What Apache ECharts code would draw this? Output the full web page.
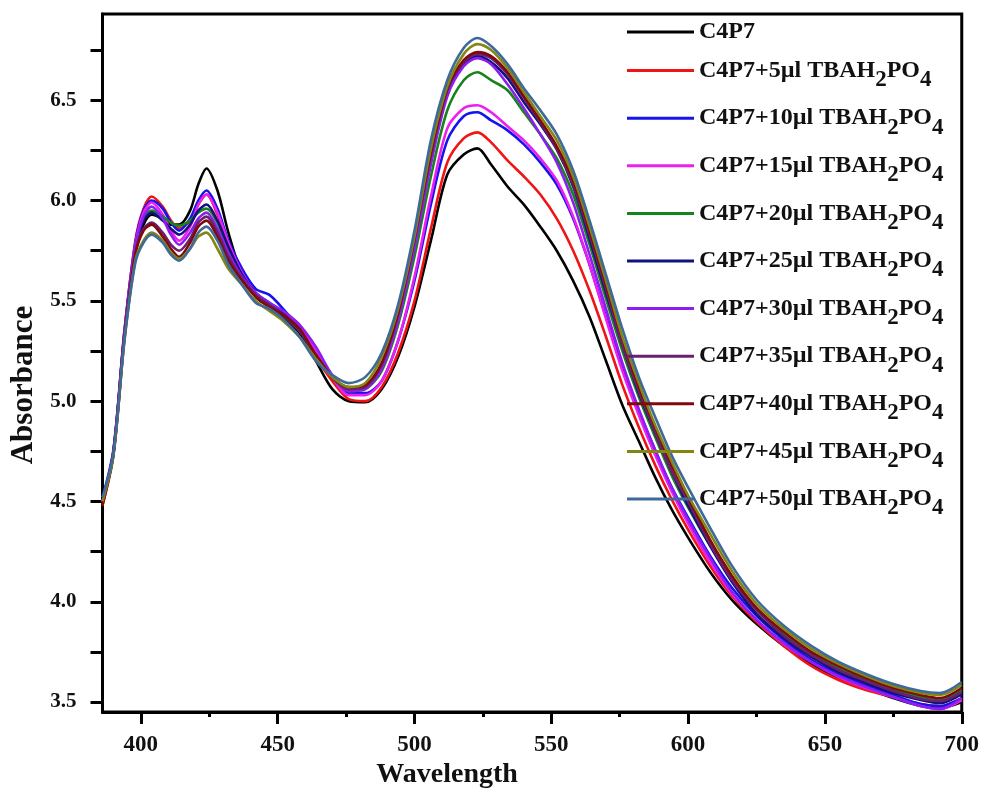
<!DOCTYPE html>
<html>
<head>
<meta charset="utf-8">
<script src="https://cdn.jsdelivr.net/npm/echarts@6/dist/echarts.min.js"></script>
<style>
  body { margin: 0; background: #fff; }
  #chart { width: 982px; height: 794px; }
</style>
</head>
<body>
<div id="chart"></div>
<script>
var wavelength = [386, 390, 394, 398, 401, 404, 408, 411, 414, 418, 421, 424, 428, 432, 437, 442, 447, 452, 458, 464,
  470, 476, 482, 488, 494, 500, 506, 512, 518, 523, 528, 534, 540, 546, 552, 558, 564, 570, 576, 582,
  588, 594, 600, 608, 616, 625, 635, 645, 655, 665, 675, 685, 692, 700];

var c4p7 = [4.5, 4.74, 5.33, 5.74, 5.88, 5.93, 5.91, 5.88, 5.88, 5.95, 6.08, 6.16, 6.05, 5.84, 5.63, 5.52, 5.47, 5.42, 5.34, 5.2,
  5.06, 5.0, 4.995, 5.06, 5.22, 5.47, 5.8, 6.13, 6.23, 6.26, 6.18, 6.07, 5.98, 5.87, 5.75, 5.6, 5.42, 5.2, 4.98, 4.8,
  4.62, 4.46, 4.32, 4.15, 4.01, 3.89, 3.78, 3.69, 3.62, 3.57, 3.52, 3.48, 3.47, 3.5];
var add5 = [4.48, 4.74, 5.34, 5.8, 5.96, 6.02, 5.97, 5.9, 5.86, 5.9, 5.98, 6.03, 5.93, 5.78, 5.62, 5.53, 5.47, 5.44, 5.38, 5.22,
  5.1, 5.01, 5.0, 5.07, 5.24, 5.5, 5.86, 6.19, 6.31, 6.34, 6.29, 6.2, 6.12, 6.03, 5.91, 5.75, 5.55, 5.32, 5.08, 4.87,
  4.68, 4.51, 4.36, 4.18, 4.03, 3.9, 3.78, 3.68, 3.61, 3.56, 3.525, 3.49, 3.48, 3.52];
var add10 = [4.52, 4.76, 5.35, 5.79, 5.95, 6.0, 5.96, 5.89, 5.85, 5.91, 6.0, 6.05, 5.96, 5.8, 5.66, 5.56, 5.53, 5.46, 5.36, 5.23,
  5.12, 5.04, 5.04, 5.1, 5.3, 5.6, 5.98, 6.3, 6.42, 6.44, 6.4, 6.35, 6.28, 6.19, 6.08, 5.91, 5.68, 5.42, 5.17, 4.95,
  4.755, 4.57, 4.42, 4.23, 4.07, 3.93, 3.81, 3.71, 3.64, 3.585, 3.535, 3.49, 3.48, 3.52];
var add15 = [4.5, 4.75, 5.34, 5.78, 5.94, 5.99, 5.93, 5.85, 5.8, 5.87, 5.98, 6.03, 5.94, 5.79, 5.64, 5.54, 5.48, 5.44, 5.38, 5.25,
  5.12, 5.03, 5.03, 5.1, 5.3, 5.62, 6.02, 6.36, 6.46, 6.475, 6.44, 6.37, 6.3, 6.21, 6.1, 5.92, 5.68, 5.41, 5.15, 4.93,
  4.73, 4.55, 4.39, 4.2, 4.04, 3.91, 3.79, 3.7, 3.625, 3.57, 3.525, 3.48, 3.465, 3.51];
var add20 = [4.5, 4.75, 5.33, 5.76, 5.91, 5.95, 5.92, 5.89, 5.875, 5.9, 5.94, 5.96, 5.89, 5.75, 5.62, 5.53, 5.48, 5.43, 5.35, 5.23,
  5.12, 5.05, 5.06, 5.15, 5.38, 5.72, 6.12, 6.45, 6.6, 6.64, 6.6, 6.55, 6.44, 6.33, 6.21, 6.03, 5.78, 5.51, 5.25, 5.02,
  4.82, 4.63, 4.47, 4.28, 4.11, 3.96, 3.84, 3.745, 3.67, 3.61, 3.56, 3.525, 3.515, 3.56];
var add25 = [4.5, 4.75, 5.33, 5.76, 5.9, 5.94, 5.9, 5.86, 5.83, 5.88, 5.95, 5.98, 5.9, 5.77, 5.63, 5.54, 5.49, 5.44, 5.35, 5.23,
  5.12, 5.06, 5.07, 5.17, 5.42, 5.78, 6.2, 6.53, 6.68, 6.72, 6.69, 6.61, 6.49, 6.38, 6.255, 6.07, 5.81, 5.54, 5.28, 5.04,
  4.84, 4.65, 4.48, 4.28, 4.1, 3.94, 3.82, 3.725, 3.65, 3.595, 3.545, 3.51, 3.495, 3.54];
var add30 = [4.5, 4.75, 5.34, 5.77, 5.92, 5.97, 5.91, 5.83, 5.78, 5.84, 5.91, 5.94, 5.86, 5.74, 5.62, 5.54, 5.49, 5.45, 5.38, 5.27,
  5.13, 5.05, 5.06, 5.16, 5.4, 5.76, 6.18, 6.52, 6.67, 6.71, 6.68, 6.58, 6.46, 6.33, 6.19, 5.99, 5.73, 5.46, 5.19, 4.96,
  4.755, 4.57, 4.41, 4.22, 4.05, 3.91, 3.795, 3.7, 3.63, 3.575, 3.525, 3.48, 3.465, 3.52];
var add35 = [4.5, 4.74, 5.32, 5.74, 5.86, 5.89, 5.84, 5.78, 5.75, 5.81, 5.89, 5.92, 5.84, 5.72, 5.61, 5.53, 5.48, 5.43, 5.35, 5.23,
  5.12, 5.06, 5.07, 5.18, 5.43, 5.8, 6.22, 6.55, 6.69, 6.73, 6.71, 6.63, 6.51, 6.39, 6.26, 6.08, 5.83, 5.56, 5.28, 5.05,
  4.845, 4.65, 4.5, 4.29, 4.11, 3.96, 3.83, 3.735, 3.66, 3.605, 3.555, 3.515, 3.505, 3.55];
var add40 = [4.48, 4.73, 5.31, 5.73, 5.85, 5.88, 5.82, 5.76, 5.72, 5.79, 5.87, 5.9, 5.82, 5.7, 5.6, 5.52, 5.47, 5.43, 5.36, 5.23,
  5.12, 5.07, 5.08, 5.19, 5.44, 5.81, 6.24, 6.56, 6.7, 6.74, 6.72, 6.64, 6.52, 6.4, 6.27, 6.1, 5.85, 5.58, 5.31, 5.07,
  4.87, 4.68, 4.52, 4.31, 4.13, 3.97, 3.85, 3.75, 3.68, 3.62, 3.57, 3.535, 3.52, 3.57];
var add45 = [4.5, 4.73, 5.3, 5.7, 5.8, 5.84, 5.8, 5.74, 5.71, 5.76, 5.82, 5.84, 5.76, 5.66, 5.58, 5.5, 5.45, 5.4, 5.32, 5.21,
  5.12, 5.07, 5.09, 5.22, 5.46, 5.82, 6.26, 6.57, 6.73, 6.78, 6.75, 6.66, 6.54, 6.42, 6.3, 6.12, 5.87, 5.6, 5.32, 5.09,
  4.88, 4.7, 4.53, 4.34, 4.155, 3.99, 3.865, 3.765, 3.69, 3.63, 3.58, 3.545, 3.535, 3.585];
var add50 = [4.52, 4.74, 5.3, 5.69, 5.79, 5.83, 5.79, 5.73, 5.7, 5.76, 5.84, 5.87, 5.8, 5.68, 5.58, 5.49, 5.46, 5.41, 5.32, 5.2,
  5.13, 5.09, 5.12, 5.24, 5.48, 5.85, 6.3, 6.6, 6.76, 6.81, 6.77, 6.68, 6.56, 6.45, 6.33, 6.15, 5.9, 5.63, 5.36, 5.12,
  4.92, 4.73, 4.57, 4.37, 4.18, 4.01, 3.88, 3.78, 3.7, 3.64, 3.59, 3.555, 3.545, 3.6];

var names = ['C4P7', 'C4P7+5µl TBAH2PO4', 'C4P7+10µl TBAH2PO4', 'C4P7+15µl TBAH2PO4', 'C4P7+20µl TBAH2PO4',
  'C4P7+25µl TBAH2PO4', 'C4P7+30µl TBAH2PO4', 'C4P7+35µl TBAH2PO4', 'C4P7+40µl TBAH2PO4',
  'C4P7+45µl TBAH2PO4', 'C4P7+50µl TBAH2PO4'];
var values = [c4p7, add5, add10, add15, add20, add25, add30, add35, add40, add45, add50];
var colors = ['#000000', '#f01414', '#1414ee', '#ee1eee', '#16841a', '#12127e', '#8c1ef0', '#6e1e6e', '#800a0a', '#858514', '#3d6a98'];

var xMajor = [400, 450, 500, 550, 600, 650, 700];
var xMinor = [425, 475, 525, 575, 625, 675];
var yMajor = [3.5, 4.0, 4.5, 5.0, 5.5, 6.0, 6.5];
var yTicks = [3.5, 3.75, 4.0, 4.25, 4.5, 4.75, 5.0, 5.25, 5.5, 5.75, 6.0, 6.25, 6.5, 6.75];

var serif = 'Liberation Serif';
var chart = echarts.init(document.getElementById('chart'));

var series = names.map(function (n, i) {
  return {
    name: n,
    type: 'line',
    showSymbol: false,
    symbol: 'none',
    smooth: 0.3,
    color: colors[i],
    lineStyle: { width: 2.6, color: colors[i] },
    data: wavelength.map(function (w, j) { return [w, values[i][j]]; })
  };
});

chart.setOption({
  animation: false,
  grid: { left: 102.5, right: 19, top: 14, bottom: 80, show: true, borderColor: '#000', borderWidth: 3 },
  legend: {
    orient: 'vertical',
    left: 627,
    top: 20,
    padding: 0,
    itemGap: 14.6,
    itemWidth: 67,
    itemHeight: 3,
    icon: 'rect',
    selectedMode: false,
    data: names,
    formatter: function (name) {
      if (name.indexOf('TBAH') < 0) return '{t|' + name + '}';
      return '{t|' + name.split('TBAH')[0] + 'TBAH}{s|2}{t|PO}{s|4}{h| }';
    },
    textStyle: {
      fontFamily: serif, fontWeight: 'bold', fontSize: 24, color: '#111',
      rich: {
        t: { fontFamily: serif, fontWeight: 'bold', fontSize: 24, lineHeight: 22, color: '#111', verticalAlign: 'middle' },
        s: { fontFamily: serif, fontWeight: 'bold', fontSize: 23, lineHeight: 20, color: '#111', verticalAlign: 'bottom' },
        h: { fontSize: 2, lineHeight: 42, verticalAlign: 'middle' }
      }
    }
  },
  xAxis: [{
    type: 'value',
    min: 386,
    max: 700,
    name: 'Wavelength',
    nameLocation: 'middle',
    nameGap: 47,
    nameTextStyle: { fontFamily: serif, fontWeight: 'bold', fontSize: 28, color: '#111', padding: [0, 170, 0, 0] },
    axisLine: { show: true, lineStyle: { color: '#000', width: 3 } },
    axisTick: { show: true, length: 12, customValues: xMajor, lineStyle: { color: '#000', width: 3 } },
    axisLabel: { customValues: xMajor, margin: 21, fontFamily: serif, fontWeight: 'bold', fontSize: 23, color: '#111' },
    splitLine: { show: false }
  }, {
    type: 'value',
    min: 386,
    max: 700,
    position: 'bottom',
    axisLine: { show: false },
    axisTick: { show: true, length: 5, customValues: xMinor, lineStyle: { color: '#000', width: 3 } },
    axisLabel: { show: false },
    splitLine: { show: false }
  }],
  yAxis: {
    type: 'value',
    min: 3.45,
    max: 6.93,
    name: 'Absorbance',
    nameLocation: 'middle',
    nameGap: 62,
    nameTextStyle: { fontFamily: serif, fontWeight: 'bold', fontSize: 31, color: '#111', padding: [0, 44, 0, 0] },
    axisLine: { show: true, lineStyle: { color: '#000', width: 3 } },
    axisTick: { show: true, length: 12, customValues: yTicks, lineStyle: { color: '#000', width: 3 } },
    axisLabel: {
      customValues: yMajor, margin: 26, fontFamily: serif, fontWeight: 'bold', fontSize: 21, color: '#111',
      formatter: function (v) { return v.toFixed(1); }
    },
    splitLine: { show: false }
  },
  series: series
});
</script>
</body>
</html>
